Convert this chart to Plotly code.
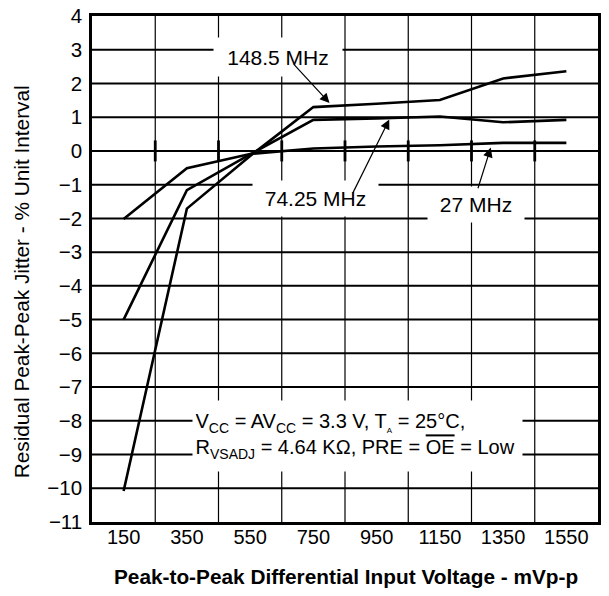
import plotly.graph_objects as go

# Input voltage sweep (mVp-p) and residual jitter (% UI) per clock frequency
voltage = [150, 350, 550, 750, 950, 1150, 1350, 1550]
jitter_148_5 = [-10.08, -1.71, -0.15, 1.30, 1.40, 1.51, 2.15, 2.36]
jitter_74_25 = [-5.0, -1.16, -0.10, 0.92, 0.96, 1.02, 0.85, 0.92]
jitter_27 = [-2.02, -0.51, -0.09, 0.07, 0.13, 0.17, 0.24, 0.24]

x_tick_labels = ["150", "350", "550", "750", "950", "1150", "1350", "1550"]
y_ticks = list(range(-11, 5))

# grid cells are centred on the sweep points
grid_x = [250, 450, 650, 850, 1050, 1250, 1450]
x_span = [50, 1650]

FONT = "Liberation Sans, Arial, Helvetica, sans-serif"
INK = "black"

fig = go.Figure()

# vertical grid lines between sweep points
for gx in grid_x:
    fig.add_vline(x=gx, line=dict(color=INK, width=1.2), layer="below")

# horizontal grid lines at each unit
for gy in y_ticks[1:-1]:
    fig.add_shape(type="line", xref="x", yref="y", x0=x_span[0], x1=x_span[1], y0=gy, y1=gy,
                  line=dict(color=INK, width=2), layer="below")

for name, ys in [("148.5 MHz", jitter_148_5), ("74.25 MHz", jitter_74_25), ("27 MHz", jitter_27)]:
    fig.add_trace(go.Scatter(
        x=voltage, y=ys, mode="lines", name=name,
        line=dict(color=INK, width=2.6), showlegend=False,
    ))

# bold tick marks on the zero line at each vertical grid line
fig.add_trace(go.Scatter(
    x=grid_x, y=[0] * len(grid_x), mode="markers", showlegend=False, hoverinfo="skip",
    marker=dict(symbol="line-ns", size=15, line=dict(color=INK, width=2.8)),
))

fig.update_xaxes(
    range=x_span,
    tickmode="array", tickvals=voltage, ticktext=x_tick_labels,
    showgrid=False, zeroline=False, automargin=False,
    showline=True, linecolor=INK, linewidth=2.5, mirror=True,
    ticks="", ticklabelstandoff=-5,
    tickfont=dict(size=20, color=INK, family=FONT),
)
fig.update_yaxes(
    range=[-11, 4],
    tickmode="array", tickvals=y_ticks,
    showgrid=False, zeroline=False, automargin=False,
    showline=True, linecolor=INK, linewidth=2.5, mirror=True,
    ticks="", ticklabelstandoff=3,
    tickfont=dict(size=20.5, color=INK, family=FONT),
)

# axis titles
fig.add_annotation(xref="paper", yref="paper", x=0.502, y=-0.108, yanchor="middle",
                   text="<b>Peak-to-Peak Differential Input Voltage - mVp-p</b>",
                   showarrow=False, font=dict(size=20.8, color=INK, family=FONT))
fig.add_annotation(xref="paper", yref="paper", x=-0.14, y=0.474, xanchor="center",
                   text="Residual Peak-Peak Jitter - % Unit Interval", textangle=-90,
                   showarrow=False, font=dict(size=20.8, color=INK, family=FONT))

# series labels on white boxes
fig.add_annotation(x=637, y=2.78, text="148.5 MHz", showarrow=False, font=dict(size=21, color=INK, family=FONT),
                   bgcolor="white", width=128, height=38, borderpad=0)
fig.add_annotation(x=758, y=-1.40, text="74.25 MHz", showarrow=False, font=dict(size=21, color=INK, family=FONT),
                   bgcolor="white", width=125, height=35, borderpad=0)
fig.add_annotation(x=1263, y=-1.58, text="27 MHz", showarrow=False, font=dict(size=21, color=INK, family=FONT),
                   bgcolor="white", width=96, height=35, borderpad=0)

conditions = (
    "V<sub>CC</sub> = AV<sub>CC</sub> = 3.3 V, T<sub><span style='font-size:8px'>A</span></sub> = 25°C,"
    "<br>R<sub>VSADJ</sub> = 4.64 KΩ, PRE = <span style='text-decoration:overline'>OE</span> = Low"
)
fig.add_annotation(x=891, y=-8.44, text=conditions, showarrow=False, font=dict(size=20, color=INK, family=FONT),
                   bgcolor="white", width=324, height=65, borderpad=2.5, align="left")

# pointer arrows from the labels to their curves
arrow_style = dict(showarrow=True, text="", axref="x", ayref="y",
                   arrowhead=2, arrowsize=1.6, arrowwidth=1.2, arrowcolor=INK)
fig.add_annotation(x=801, y=1.42, ax=684, ay=2.61, **arrow_style)
fig.add_annotation(x=990, y=0.93, ax=873, ay=-1.28, **arrow_style)
fig.add_annotation(x=1311, y=0.10, ax=1269, ay=-1.15, **arrow_style)

fig.update_layout(
    width=609, height=596,
    margin=dict(l=92, r=11, t=16, b=74),
    plot_bgcolor="white", paper_bgcolor="white",
    font=dict(family=FONT, color=INK),
)

fig.write_html("out.html")
